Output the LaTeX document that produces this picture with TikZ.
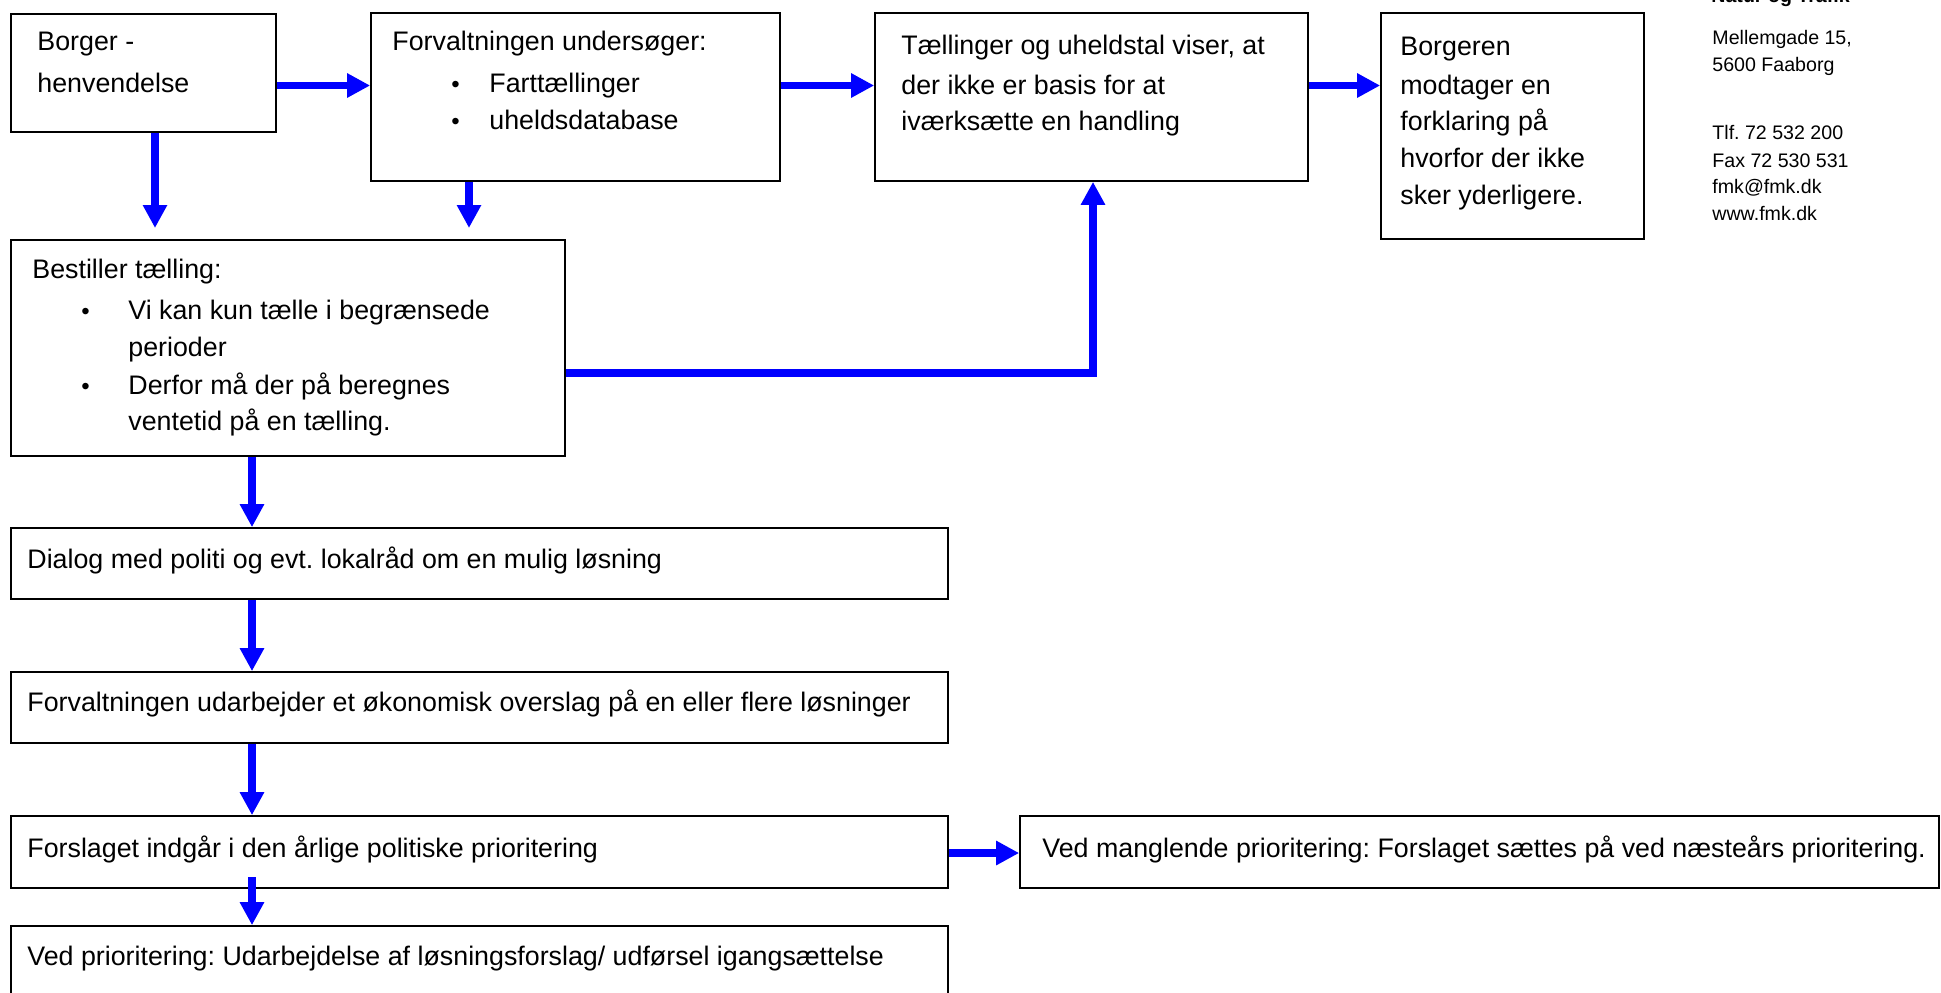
\documentclass[tikz,border=0pt]{standalone}
\usepackage{fontspec}
\setmainfont{Liberation Sans}
\usetikzlibrary{arrows.meta,fit}
\definecolor{arrowblue}{RGB}{0,0,255}
\frenchspacing
\begin{document}
\begin{tikzpicture}[x=0.5pt,y=-0.5pt,
  box/.style={draw=black,line width=0.85pt,inner sep=0pt},
  txt/.style={anchor=base west,inner sep=0pt,font=\fontsize{13.4pt}{16pt}\selectfont},
  bul/.style={anchor=base west,inner sep=0pt,font=\fontsize{12pt}{14pt}\selectfont},
  small/.style={anchor=base west,inner sep=0pt,font=\fontsize{9.8pt}{12pt}\selectfont},
  arr/.style={draw=arrowblue,line width=3.7pt,-{Triangle[width=11.5pt,length=11.5pt]}}
]
\useasboundingbox (0,0) rectangle (1941,992);
% boxes
\node[box,fit={(11,14) (276,132)}] (b1) {};
\node[box,fit={(371,13) (780,181)}] (b2) {};
\node[box,fit={(875,13) (1308,181)}] (b3) {};
\node[box,fit={(1381,13) (1644,239)}] (b4) {};
\node[box,fit={(11,240) (565,456)}] (b5) {};
\node[box,fit={(11,528) (948,599)}] (b6) {};
\node[box,fit={(11,672) (948,743)}] (b7) {};
\node[box,fit={(11,816) (948,888)}] (b8) {};
\node[box,fit={(1020,816) (1939,888)}] (b9) {};
\node[box,fit={(11,926) (948,1010)}] (b10) {};
% texts
\node[txt] (t1a) at (37,50) {Borger -};
\node[txt] (t1b) at (37,92) {henvendelse};
\node[txt] (t2a) at (392,50) {Forvaltningen undersøger:};
\node[bul] (t2p) at (451,92) {\textbullet};
\node[txt] (t2b) at (489,92) {Farttællinger};
\node[bul] (t2q) at (451,129) {\textbullet};
\node[txt] (t2c) at (489,129) {uheldsdatabase};
\node[txt] (t3a) at (901,54) {Tællinger og uheldstal viser, at};
\node[txt] (t3b) at (901,94) {der ikke er basis for at};
\node[txt] (t3c) at (901,130) {iværksætte en handling};
\node[txt] (t4a) at (1400,55) {Borgeren};
\node[txt] (t4b) at (1400,94) {modtager en};
\node[txt] (t4c) at (1400,130) {forklaring på};
\node[txt] (t4d) at (1400,167) {hvorfor der ikke};
\node[txt] (t4e) at (1400,204) {sker yderligere.};
\node[txt] (t5a) at (32,278) {Bestiller tælling:};
\node[bul] (t5p) at (81,319) {\textbullet};
\node[txt] (t5b) at (128,319) {Vi kan kun tælle i begrænsede};
\node[txt] (t5c) at (128,356) {perioder};
\node[bul] (t5q) at (81,394) {\textbullet};
\node[txt] (t5d) at (128,394) {Derfor må der på beregnes};
\node[txt] (t5e) at (128,430) {ventetid på en tælling.};
\node[txt] (t6) at (27,568) {Dialog med politi og evt. lokalråd om en mulig løsning};
\node[txt] (t7) at (27,711) {Forvaltningen udarbejder et økonomisk overslag på en eller flere løsninger};
\node[txt] (t8) at (27,857) {Forslaget indgår i den årlige politiske prioritering};
\node[txt] (t9) at (1042,857) {Ved manglende prioritering: Forslaget sættes på ved næsteårs prioritering.};
\node[txt] (t10) at (27,965) {Ved prioritering: Udarbejdelse af løsningsforslag/ udførsel igangsættelse};
% address block
\node[small,font=\fontsize{9.8pt}{12pt}\selectfont\bfseries] (h0) at (1711,2) {Natur og Trafik};
\node[small] (h1) at (1712,44) {Mellemgade 15,};
\node[small] (h2) at (1712,71) {5600 Faaborg};
\node[small] (h3) at (1712,139) {Tlf. 72 532 200};
\node[small] (h4) at (1712,167) {Fax 72 530 531};
\node[small] (h5) at (1712,193) {fmk@fmk.dk};
\node[small] (h6) at (1712,220) {www.fmk.dk};
% helper coordinates
\coordinate (r1) at (0,85.5);
\coordinate (e1) at (155,228);
\coordinate (e2) at (469,228);
\coordinate (k) at (1093,373);
\coordinate (v) at (252,0);
\coordinate (s8) at (252,877);
\coordinate (r8) at (0,853);
% connectors
\draw[arr] (b1.east |- r1) -- (b2.west |- r1);
\draw[arr] (b2.east |- r1) -- (b3.west |- r1);
\draw[arr] (b3.east |- r1) -- (b4.west |- r1);
\draw[arr] (b1.south -| e1) -- (e1);
\draw[arr] (b2.south -| e2) -- (e2);
\draw[arr] (b5.east |- k) -| (b3.south -| k);
\draw[arr] (b5.south -| v) -- (b6.north -| v);
\draw[arr] (b6.south -| v) -- (b7.north -| v);
\draw[arr] (b7.south -| v) -- (b8.north -| v);
\draw[arr] (s8) -- (b10.north -| s8);
\draw[arr] (b8.east |- r8) -- (b9.west |- r8);
\end{tikzpicture}
\end{document}
